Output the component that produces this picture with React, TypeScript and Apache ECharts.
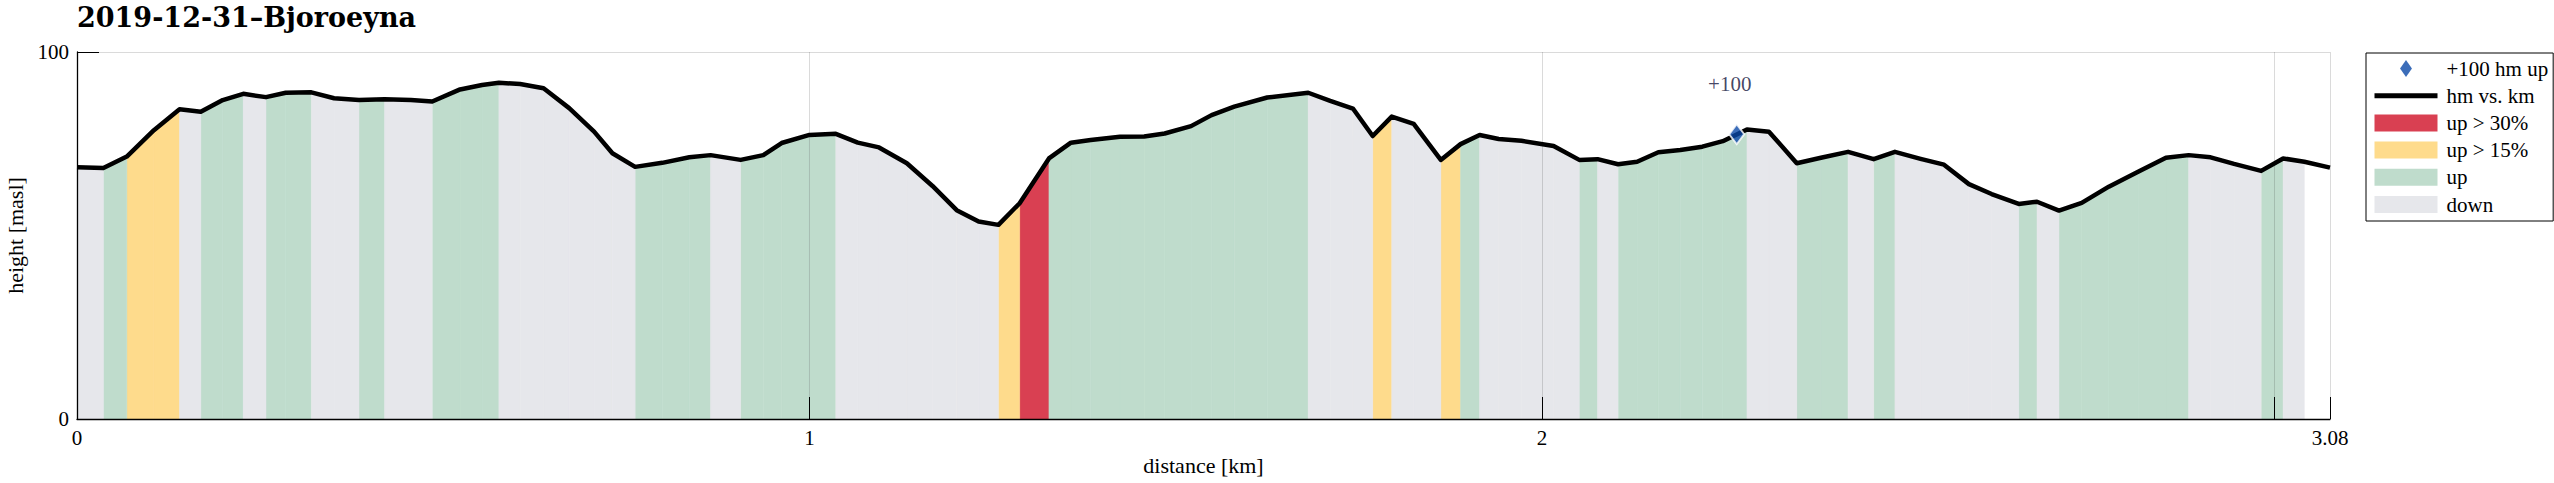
import React, { useEffect, useRef } from "react";
import * as echarts from "echarts";

// ---- data ----
const titleText = "2019-12-31\u2013Bjoroeyna";

const distanceKm = [
  0.0, 0.036, 0.068, 0.105, 0.14, 0.169, 0.199, 0.227, 0.258, 0.285, 0.32, 0.351, 0.385, 0.42, 0.456, 0.485,
  0.523, 0.553, 0.576, 0.605, 0.637, 0.672, 0.706, 0.731, 0.762, 0.799, 0.836, 0.865, 0.906, 0.937, 0.962, 1.0,
  1.036, 1.066, 1.095, 1.133, 1.168, 1.201, 1.231, 1.258, 1.287, 1.327, 1.357, 1.384, 1.424, 1.457, 1.485, 1.521,
  1.549, 1.58, 1.625, 1.681, 1.711, 1.742, 1.769, 1.795, 1.825, 1.862, 1.889, 1.915, 1.941, 1.972, 2.016, 2.051,
  2.076, 2.104, 2.13, 2.159, 2.189, 2.219, 2.247, 2.28, 2.31, 2.348, 2.381, 2.418, 2.453, 2.482, 2.517, 2.549,
  2.583, 2.614, 2.651, 2.676, 2.706, 2.737, 2.774, 2.814, 2.852, 2.883, 2.913, 2.945, 2.982, 3.012, 3.041, 3.076,
];

const heightM = [
  68.6, 68.4, 71.5, 78.7, 84.4, 83.7, 86.9, 88.6, 87.7, 88.9, 89.0, 87.4, 86.9, 87.1, 86.9, 86.5,
  89.8, 91.0, 91.6, 91.3, 90.1, 84.7, 78.3, 72.4, 68.7, 69.8, 71.3, 71.9, 70.6, 71.9, 75.2, 77.4,
  77.7, 75.3, 74.0, 69.7, 63.5, 56.9, 53.8, 52.9, 58.8, 71.0, 75.3, 76.0, 76.9, 77.0, 77.8, 79.8,
  82.8, 85.1, 87.6, 88.9, 86.7, 84.6, 77.1, 82.4, 80.4, 70.6, 74.9, 77.4, 76.3, 75.8, 74.4, 70.6,
  70.8, 69.4, 70.1, 72.7, 73.3, 74.2, 75.7, 78.9, 78.3, 69.7, 71.2, 72.8, 70.8, 72.8, 70.9, 69.3,
  64.0, 61.3, 58.6, 59.2, 56.8, 58.9, 63.3, 67.4, 71.2, 71.9, 71.3, 69.5, 67.6, 71.0, 70.1, 68.5,
];

// class of each segment between consecutive points (as coloured in the reference)
const segmentClass = [
  "down", "up", "up15", "up15", "down", "up", "up", "down", "up", "up", "down", "down", "up", "down", "down", "up",
  "up", "up", "down", "down", "down", "down", "down", "down", "up", "up", "up", "down", "up", "up", "up", "up",
  "down", "down", "down", "down", "down", "down", "down", "up15", "up30", "up", "up", "up", "up", "up", "up", "up",
  "up", "up", "up", "down", "down", "down", "up15", "down", "down", "up15", "up", "down", "down", "down", "down", "up",
  "down", "up", "up", "up", "up", "up", "up", "down", "down", "up", "up", "down", "up", "down", "down", "down",
  "down", "down", "up", "down", "up", "up", "up", "up", "up", "down", "down", "down", "up", "down", "none",
];

const milestoneKm = [2.266];
const milestoneHeight = [77.6];
const milestoneLabels = ["+100"];

const xTickValues = [0, 1, 2, 3, 3.076];
const xTickLabels = ["0", "1", "2", "", "3.08"];
const yTickLabels = ["0", "100"];

const classNames = ["up30", "up15", "up", "down"];
const classLegend = ["up > 30%", "up > 15%", "up", "down"];
const classColors = ["#d94052", "#fedb8c", "#bfdccc", "#e6e7eb"];

const FONT = "'Liberation Serif', 'DejaVu Serif', serif";

export default function App() {
  const ref = useRef<HTMLDivElement>(null);

  useEffect(() => {
    if (!ref.current) return;
    const chart = echarts.init(ref.current, undefined, { renderer: "svg" });

    const profile = distanceKm.map((d, i) => [d, heightM[i]]);

    const fillSeries = classNames.map((cls, ci) => {
      const segs: number[][] = [];
      for (let i = 0; i < segmentClass.length; i++) {
        if (segmentClass[i] === cls) {
          segs.push([distanceKm[i], heightM[i], distanceKm[i + 1], heightM[i + 1]]);
        }
      }
      return {
        type: "custom",
        name: classLegend[ci],
        z: 2,
        itemStyle: { color: classColors[ci] },
        encode: { x: [0, 2], y: [1, 3] },
        data: segs,
        silent: true,
        renderItem: (params: any, api: any) => {
          const x0 = api.value(0);
          const y0 = api.value(1);
          const x1 = api.value(2);
          const y1 = api.value(3);
          const pts = [api.coord([x0, 0]), api.coord([x0, y0]), api.coord([x1, y1]), api.coord([x1, 0])];
          return {
            type: "polygon",
            shape: { points: pts },
            style: { fill: classColors[ci], stroke: classColors[ci], lineWidth: 0.5 },
          };
        },
      };
    });

    const option: any = {
      animation: false,
      backgroundColor: "#ffffff",
      title: {
        text: titleText,
        left: 77,
        top: 4,
        padding: 0,
        textStyle: { fontFamily: "'DejaVu Serif', serif", fontWeight: "bold", fontSize: 27, color: "#000" },
      },
      grid: { left: 77, right: 224, top: 52, bottom: 64, containLabel: false, outerBoundsMode: "none" },
      legend: {
        orient: "vertical",
        left: 2366,
        top: 53,
        padding: [5, 5, 6, 6],
        borderColor: "#000",
        borderWidth: 1,
        borderRadius: 0,
        backgroundColor: "#fff",
        itemWidth: 63,
        itemHeight: 17,
        itemGap: 6.2,
        symbolKeepAspect: true,
        selectedMode: false,
        textStyle: { fontFamily: FONT, fontSize: 21, color: "#000", lineHeight: 17, padding: [0, 0, 0, 4] },
        data: [
          {
            name: "+100 hm up",
            icon: "path://M0,-10L7,0L0,10L-7,0Z",
            itemStyle: { color: "#0b48a8", borderWidth: 0, borderColor: "rgba(0,0,0,0)" },
          },
          {
            name: "hm vs. km",
            itemStyle: { color: "rgba(0,0,0,0)", borderColor: "rgba(0,0,0,0)", borderWidth: 0, opacity: 0 },
            lineStyle: { width: 5, color: "#000" },
          },
          { name: classLegend[0], icon: "rect" },
          { name: classLegend[1], icon: "rect" },
          { name: classLegend[2], icon: "rect" },
          { name: classLegend[3], icon: "rect" },
        ],
      },
      xAxis: {
        type: "value",
        min: 0,
        max: xTickValues[xTickValues.length - 1],
        z: 3,
        name: "distance [km]",
        nameLocation: "middle",
        nameGap: 35,
        nameTextStyle: { fontFamily: FONT, fontSize: 22, color: "#000" },
        axisLine: { show: true, onZero: false, lineStyle: { color: "#000", width: 1.3 } },
        axisTick: { show: true, inside: true, length: 22, customValues: xTickValues, lineStyle: { color: "#000", width: 1 } },
        axisLabel: {
          show: true,
          margin: 8,
          customValues: xTickValues,
          showMinLabel: true,
          showMaxLabel: true,
          fontFamily: FONT,
          fontSize: 21,
          color: "#000",
          formatter: (v: number) => {
            let best = 0;
            for (let i = 1; i < xTickValues.length; i++) {
              if (Math.abs(xTickValues[i] - v) < Math.abs(xTickValues[best] - v)) best = i;
            }
            return xTickLabels[best];
          },
        },
        splitLine: { show: true, lineStyle: { color: "rgba(38,38,38,0.17)", width: 1 } },
      },
      yAxis: {
        type: "value",
        min: 0,
        max: 100,
        interval: 100,
        z: 3,
        name: "height [masl]",
        nameLocation: "middle",
        nameGap: 48,
        nameTextStyle: { fontFamily: FONT, fontSize: 22, color: "#000" },
        axisLine: { show: true, onZero: false, lineStyle: { color: "#000", width: 1.3 } },
        axisTick: { show: true, inside: true, length: 22, lineStyle: { color: "#000", width: 1 } },
        axisLabel: {
          margin: 8,
          fontFamily: FONT,
          fontSize: 21,
          color: "#000",
          formatter: (v: number) => (v === 0 ? yTickLabels[0] : yTickLabels[1]),
        },
        splitLine: { show: true, lineStyle: { color: "rgba(38,38,38,0.17)", width: 1 } },
      },
      series: [
        ...fillSeries,
        {
          type: "line",
          name: "hm vs. km",
          data: profile,
          z: 5,
          symbol: "none",
          showSymbol: false,
          silent: true,
          lineStyle: { color: "#000", width: 4.5, join: "round" },
          itemStyle: { color: "#000" },
        },
        {
          type: "scatter",
          name: "+100 hm up",
          z: 6,
          symbol: "diamond",
          symbolSize: [15, 20],
          silent: true,
          itemStyle: { color: "#0b48a8", borderColor: "#ffffff", borderWidth: 2 },
          label: {
            show: true,
            position: "top",
            distance: 29,
            offset: [-7, 0],
            fontFamily: FONT,
            fontSize: 21,
            color: "#14143c",
            formatter: (p: any) => milestoneLabels[p.dataIndex],
          },
          data: milestoneKm.map((d, i) => [d, milestoneHeight[i]]),
        },
      ],
    };

    chart.setOption(option);
    return () => {
      chart.dispose();
    };
  }, []);

  return (
    <div
      ref={ref}
      style={{ position: "fixed", left: 0, top: 0, width: "2554px", height: "483px", background: "#fff" }}
    />
  );
}
